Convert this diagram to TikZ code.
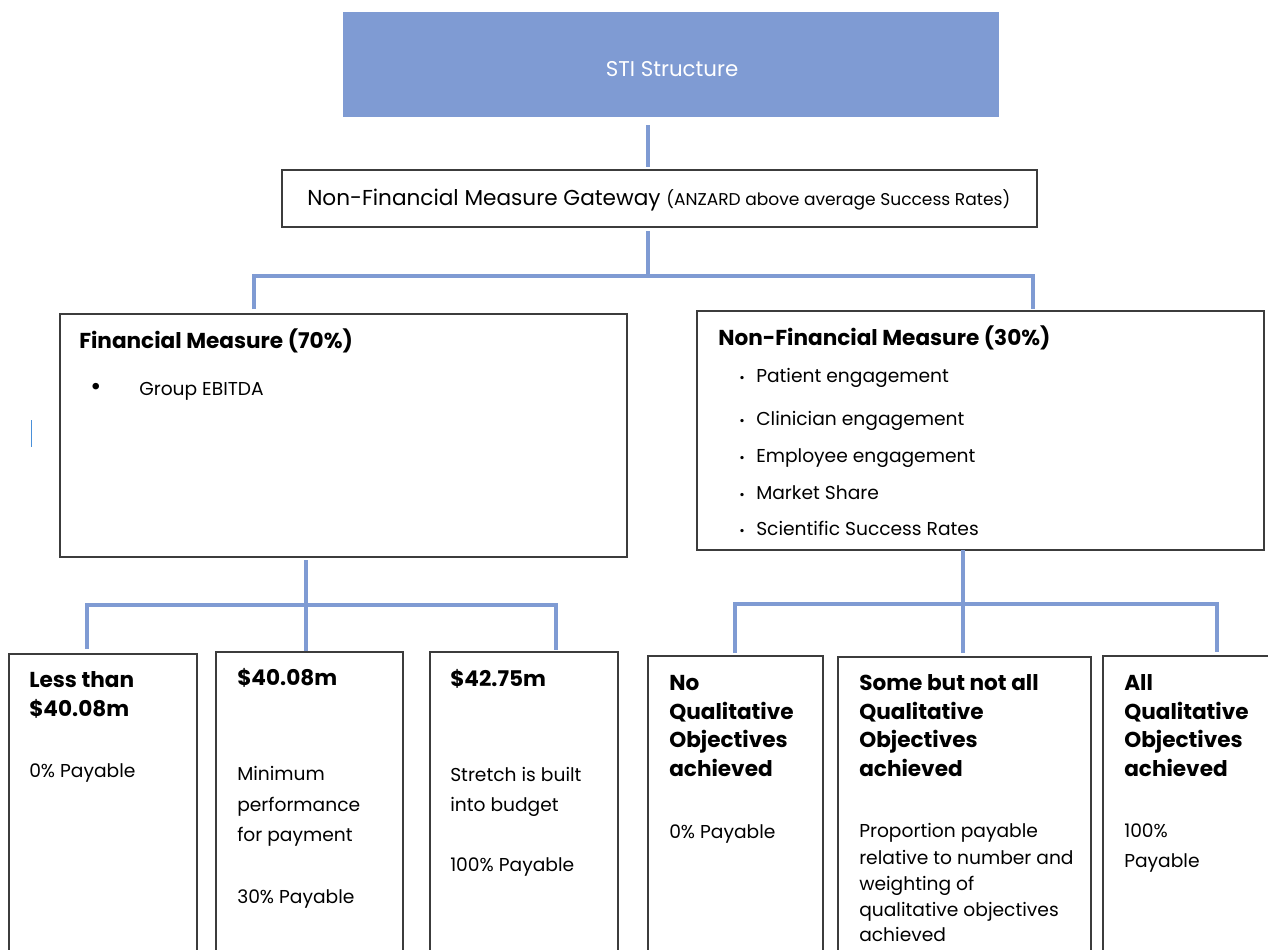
\documentclass[tikz,border=0pt]{standalone}
\usepackage{fontspec}
\setmainfont{Poppins}
\usetikzlibrary{fit}
\definecolor{stiblue}{RGB}{127,155,211}
\definecolor{cursorblue}{RGB}{74,144,217}
\definecolor{boxgray}{RGB}{60,60,60}
\begin{document}
\begin{tikzpicture}[x=0.75pt,y=-0.75pt,
  box/.style={draw=boxgray, line width=0.9pt, inner sep=0pt},
  conn/.style={draw=stiblue, line width=2.4pt},
  txt/.style={anchor=west, inner sep=0pt, text height=.72em, text depth=0pt, yshift=-2.4pt},
  rg/.style={txt, font=\fontsize{14}{16}\selectfont},
  bd/.style={txt, font=\bfseries\fontsize{16.2}{18}\selectfont},
  nbul/.style={txt, font=\fontsize{10}{12}\selectfont},
  fbul/.style={txt, font=\fontsize{20}{22}\selectfont}]
\useasboundingbox (0,0) rectangle (1268,950);
\clip (0,0) rectangle (1268,950);

% boxes
\node[fill=stiblue, inner sep=0pt, fit={(343,12) (999,117)}] (sti) {};
\node[box, fit={(282,170) (1037,227)}] (gw) {};
\node[box, fit={(60,314) (627,557)}] (fin) {};
\node[box, fit={(697,311) (1264,550)}] (nfin) {};
\node[box, fit={(9,654) (197,960)}] (b1) {};
\node[box, fit={(216,652) (403,960)}] (b2) {};
\node[box, fit={(430,652) (618,960)}] (b3) {};
\node[box, fit={(648,656) (823,960)}] (b4) {};
\node[box, fit={(838,657) (1091,960)}] (b5) {};
\node[box, fit={(1103,656) (1280,960)}] (b6) {};

% connector points
\coordinate (c1a) at (648,125); \coordinate (c1b) at (648,167);
\coordinate (c2a) at (648,231); \coordinate (c2b) at (648,276);
\coordinate (flt) at (254,276); \coordinate (fl) at (254,309);
\coordinate (frt) at (1033,276); \coordinate (fr) at (1033,309);
\coordinate (l0) at (306,560); \coordinate (l0b) at (306,605);
\coordinate (l1t) at (87,605); \coordinate (l1) at (87,649);
\coordinate (l2) at (306,651);
\coordinate (l3t) at (556,605); \coordinate (l3) at (556,650);
\coordinate (r0) at (963,550); \coordinate (r0b) at (963,604);
\coordinate (r1t) at (735,604); \coordinate (r1) at (735,653);
\coordinate (r2) at (963,653);
\coordinate (r3t) at (1217,604); \coordinate (r3) at (1217,652);

\draw[conn] (c1a) -- (c1b);
\draw[conn] (c2a) -- (c2b);
\draw[conn] (fl) -- (flt) -- (frt) -- (fr);
\draw[conn] (l0) -- (l0b);
\draw[conn] (l1) -- (l1t) -- (l3t) -- (l3);
\draw[conn] (l0b) -- (l2);
\draw[conn] (r0) -- (r0b);
\draw[conn] (r1) -- (r1t) -- (r3t) -- (r3);
\draw[conn] (r0b) -- (r2);

% stray cursor mark
\draw[cursorblue, line width=0.6pt] (31,420) -- (31,447);

% texts
\node[txt, anchor=center, text=white, font=\fontsize{16}{18}\selectfont] (stit) at (672,68) {STI Structure};
\node[txt, font=\fontsize{16.2}{18}\selectfont] (gwt) at (307,197) {Non-Financial Measure Gateway {\fontsize{12.8}{14}\selectfont (ANZARD above average Success Rates)}};

\node[bd] (fint) at (79,340) {Financial Measure (70\%)};
\node[fbul] (finb) at (90,387) {\textbullet};
\node[rg] (fin1) at (139,387) {Group EBITDA};

\node[bd] (nfint) at (718,337) {Non-Financial Measure (30\%)};
\node[nbul] (nb1) at (739,374) {\textbullet};
\node[rg] (n1) at (756,374) {Patient engagement};
\node[nbul] (nb2) at (739,417) {\textbullet};
\node[rg] (n2) at (756,417) {Clinician engagement};
\node[nbul] (nb3) at (739,454) {\textbullet};
\node[rg] (n3) at (756,454) {Employee engagement};
\node[nbul] (nb4) at (739,491) {\textbullet};
\node[rg] (n4) at (756,491) {Market Share};
\node[nbul] (nb5) at (739,527) {\textbullet};
\node[rg] (n5) at (756,527) {Scientific Success Rates};

\node[bd] (t1a) at (29,679) {Less than};
\node[bd] (t1b) at (29,708) {\$40.08m};
\node[rg] (t1c) at (29,769) {0\% Payable};

\node[bd] (t2a) at (237,677) {\$40.08m};
\node[rg] (t2b) at (237,772) {Minimum};
\node[rg] (t2c) at (237,803) {performance};
\node[rg] (t2d) at (237,833) {for payment};
\node[rg] (t2e) at (237,895) {30\% Payable};

\node[bd] (t3a) at (450,678) {\$42.75m};
\node[rg] (t3b) at (450,773) {Stretch is built};
\node[rg] (t3c) at (450,803) {into budget};
\node[rg] (t3d) at (450,863) {100\% Payable};

\node[bd] (t4a) at (669,682) {No};
\node[bd] (t4b) at (669,711) {Qualitative};
\node[bd] (t4c) at (669,739) {Objectives};
\node[bd] (t4d) at (669,768) {achieved};
\node[rg] (t4e) at (669,830) {0\% Payable};

\node[bd] (t5a) at (859,682) {Some but not all};
\node[bd] (t5b) at (859,711) {Qualitative};
\node[bd] (t5c) at (859,739) {Objectives};
\node[bd] (t5d) at (859,768) {achieved};
\node[rg] (t5e) at (859,829) {Proportion payable};
\node[rg] (t5f) at (859,856) {relative to number and};
\node[rg] (t5g) at (859,882) {weighting of};
\node[rg] (t5h) at (859,908) {qualitative objectives};
\node[rg] (t5i) at (859,933) {achieved};

\node[bd] (t6a) at (1124,682) {All};
\node[bd] (t6b) at (1124,711) {Qualitative};
\node[bd] (t6c) at (1124,739) {Objectives};
\node[bd] (t6d) at (1124,768) {achieved};
\node[rg] (t6e) at (1124,829) {100\%};
\node[rg] (t6f) at (1124,859) {Payable};
\end{tikzpicture}
\end{document}
